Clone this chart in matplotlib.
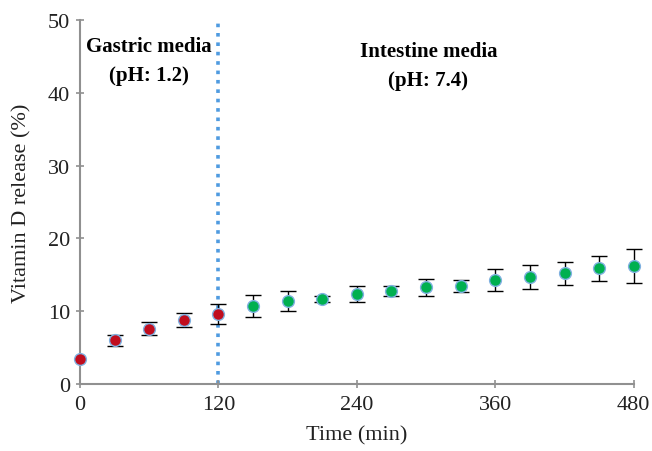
import matplotlib
matplotlib.use("Agg")
import matplotlib.pyplot as plt
import numpy as np

plt.rcParams['font.family'] = ['Liberation Serif', 'DejaVu Serif']

time_gastric = [0, 30, 60, 90, 120]
release_gastric = [3.4, 6.0, 7.6, 8.8, 9.6]
err_gastric = [np.nan, 0.8, 0.9, 0.9, 1.4]  # no visible error bar at t=0

time_intestine = [150, 180, 210, 240, 270, 300, 330, 360, 390, 420, 450, 480]
release_intestine = [10.7, 11.4, 11.7, 12.4, 12.8, 13.3, 13.5, 14.3, 14.7, 15.2, 15.9, 16.2]
err_intestine = [1.5, 1.4, 0.45, 1.1, 0.65, 1.2, 0.85, 1.45, 1.6, 1.55, 1.75, 2.3]

x_ticks = [0, 120, 240, 360, 480]
y_ticks = [0, 10, 20, 30, 40, 50]

fig = plt.figure(figsize=(6.52, 4.52), dpi=100)
ax = fig.add_axes([0.1227, 0.148, 0.972 - 0.1227, 0.9535 - 0.148])

ax.plot([120, 120], [0, 49.7], color='#4f9be0', linestyle=(0, (1, 1.6)), linewidth=2.6,
        zorder=1, clip_on=False)

for t, r, e, c in [(time_gastric, release_gastric, err_gastric, '#c00d1e'),
                   (time_intestine, release_intestine, err_intestine, '#00b050')]:
    cont = ax.errorbar(t, r, yerr=e, fmt='o', color=c,
                       markersize=8.5, markeredgecolor='#7fb0e0', markeredgewidth=1.0,
                       ecolor='black', elinewidth=1.0, capsize=5.5, capthick=1.1, zorder=3)
    for artist in [cont.lines[0]] + list(cont.lines[1]) + list(cont.lines[2]):
        artist.set_clip_on(False)
    cont.lines[0].set_zorder(4)

ax.set_xlim(0, 480)
ax.set_ylim(0, 50)
ax.set_xticks(x_ticks)
ax.set_yticks(y_ticks)
ax.tick_params(labelsize=16, colors='#222222', length=6, color='#909090', width=1.2,
               direction='inout')
ax.tick_params(axis='x', pad=5)
ax.tick_params(axis='y', pad=4)
for side in ['top', 'right']:
    ax.spines[side].set_visible(False)
for side in ['left', 'bottom']:
    ax.spines[side].set_color('#909090')
    ax.spines[side].set_linewidth(1.5)

ax.set_xlabel('Time (min)', fontsize=16, color='#222222', labelpad=8)
ax.set_ylabel('Vitamin D release (%)', fontsize=16, color='#222222', labelpad=12)

ax.text(60, 44.5, 'Gastric media\n(pH: 1.2)', ha='center', va='center', fontsize=15,
        fontweight='bold', linespacing=1.6)
ax.text(302, 43.8, 'Intestine media\n(pH: 7.4)', ha='center', va='center', fontsize=15,
        fontweight='bold', linespacing=1.6)

fig.savefig('out.png', dpi=100)
